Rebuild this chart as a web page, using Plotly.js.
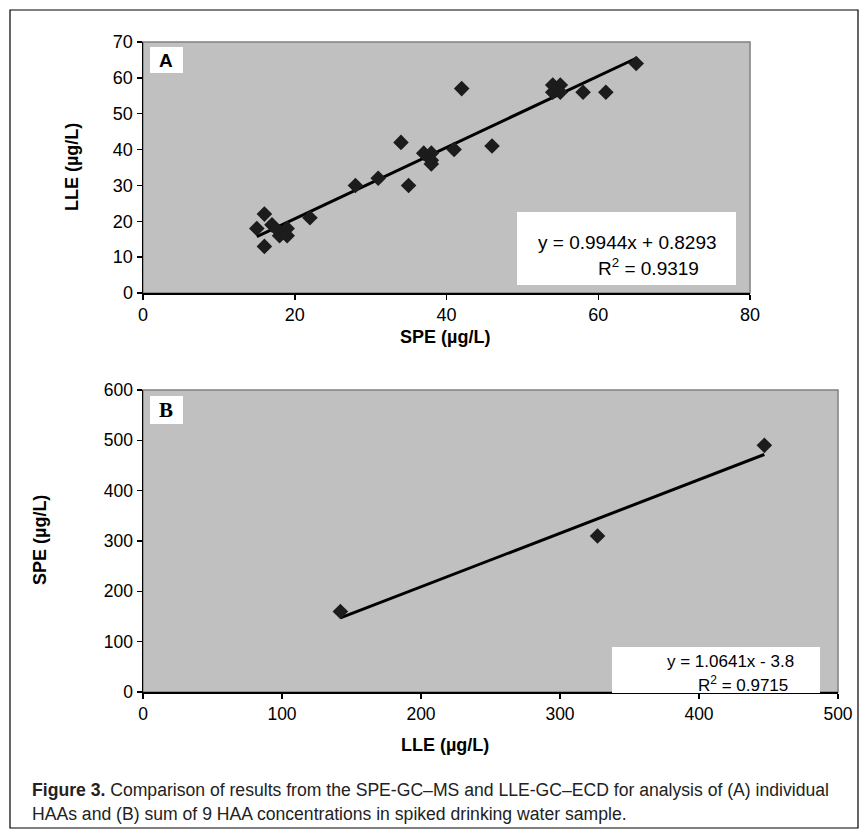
<!DOCTYPE html>
<html>
<head>
<meta charset="utf-8">
<script src="https://cdn.plot.ly/plotly-3.0.1.min.js"></script>
<style>
html,body{margin:0;padding:0;background:#fff;}
#chart{width:868px;height:838px;}
</style>
</head>
<body>
<div id="chart"></div>
<script>
// Panel A: individual HAAs
const speA = [65, 54, 55, 54, 55, 58, 61, 42, 46, 41, 34, 37, 38, 38, 38, 31, 28, 35, 22, 16, 15, 17, 18, 19, 18, 19, 16];
const lleA = [64, 58, 58, 56, 56, 56, 56, 57, 41, 40, 42, 39, 39, 37, 36, 32, 30, 30, 21, 22, 18, 19, 17, 18, 16, 16, 13];
const slopeA = 0.9944, interceptA = 0.8293, r2A = 0.9319;
// Panel B: sum of 9 HAAs
const lleB = [142, 327, 447];
const speB = [160, 310, 490];
const slopeB = 1.0641, interceptB = -3.8, r2B = 0.9715;
const ticksA_x = [0, 20, 40, 60, 80];
const ticksA_y = [0, 10, 20, 30, 40, 50, 60, 70];
const ticksB_x = [0, 100, 200, 300, 400, 500];
const ticksB_y = [0, 100, 200, 300, 400, 500, 600];

const W = 868, H = 838;
const px = v => v / W;
const py = v => 1 - v / H;

function fitLine(xs, m, b) {
  const lo = Math.min(...xs), hi = Math.max(...xs);
  return {x: [lo, hi], y: [m * lo + b, m * hi + b]};
}
const tA = fitLine(speA, slopeA, interceptA);
const tB = fitLine(lleB, slopeB, interceptB);

const mk = {symbol: 'diamond', size: 12, color: '#1c1c1c', line: {width: 0}};
const data = [
  {x: tA.x, y: tA.y, mode: 'lines', line: {color: '#000', width: 3}, xaxis: 'x', yaxis: 'y', hoverinfo: 'skip'},
  {x: speA, y: lleA, mode: 'markers', marker: mk, xaxis: 'x', yaxis: 'y'},
  {x: tB.x, y: tB.y, mode: 'lines', line: {color: '#000', width: 3}, xaxis: 'x2', yaxis: 'y2', hoverinfo: 'skip'},
  {x: lleB, y: speB, mode: 'markers', marker: mk, xaxis: 'x2', yaxis: 'y2'}
];

const axBase = {
  showgrid: false, zeroline: false, showline: true, linecolor: '#000', linewidth: 1.5,
  ticks: 'outside', ticklen: 5, tickcolor: '#000', tickwidth: 1.5, fixedrange: true
};
const fA = {family: 'Liberation Sans, Arial, sans-serif', size: 18, color: '#000'};
const fB = {family: 'Liberation Sans, Arial, sans-serif', size: 17.5, color: '#000'};

const A = {x0: 143, x1: 750, y0: 42, y1: 293};
const B = {x0: 143, x1: 838, y0: 390, y1: 692};

function note(x, y, text, font, extra) {
  return Object.assign({xref: 'paper', yref: 'paper', x: px(x), y: py(y), text: text, showarrow: false,
    xanchor: 'center', yanchor: 'middle', font: font}, extra || {});
}
const titleFont = {family: 'Liberation Sans, Arial, sans-serif', size: 18, color: '#000'};
const eqFont = {family: 'Liberation Sans, Arial, sans-serif', size: 19, color: '#000'};
const eqFontB = {family: 'Liberation Sans, Arial, sans-serif', size: 17, color: '#000'};
const capFont = {family: 'Liberation Sans, Arial, sans-serif', size: 17.6, color: '#222'};

const layout = {
  width: W, height: H, margin: {l: 0, r: 0, t: 0, b: 0},
  paper_bgcolor: '#fff', plot_bgcolor: '#c0c0c0', showlegend: false,
  xaxis: Object.assign({}, axBase, {domain: [px(A.x0), px(A.x1)], range: [0, 80], tickvals: ticksA_x, tickfont: fA, anchor: 'y'}),
  yaxis: Object.assign({}, axBase, {domain: [py(A.y1), py(A.y0)], range: [0, 70], tickvals: ticksA_y, tickfont: fA, anchor: 'x'}),
  xaxis2: Object.assign({}, axBase, {domain: [px(B.x0), px(B.x1)], range: [0, 500], tickvals: ticksB_x, tickfont: fB, anchor: 'y2'}),
  yaxis2: Object.assign({}, axBase, {domain: [py(B.y1), py(B.y0)], range: [0, 600], tickvals: ticksB_y, tickfont: fB, anchor: 'x2'}),
  shapes: [
    {type: 'rect', xref: 'paper', yref: 'paper', x0: px(10), x1: px(858), y0: py(828), y1: py(10), line: {color: '#000', width: 1.2}, layer: 'below'},
    {type: 'rect', xref: 'paper', yref: 'paper', x0: px(A.x0), x1: px(A.x1), y0: py(A.y1), y1: py(A.y0), line: {color: '#808080', width: 1.5}, layer: 'below'},
    {type: 'rect', xref: 'paper', yref: 'paper', x0: px(B.x0), x1: px(B.x1), y0: py(B.y1), y1: py(B.y0), line: {color: '#808080', width: 1.5}, layer: 'below'},
    {type: 'rect', xref: 'paper', yref: 'paper', x0: px(150), x1: px(183), y0: py(73), y1: py(47), fillcolor: '#fff', line: {width: 0}},
    {type: 'rect', xref: 'paper', yref: 'paper', x0: px(150), x1: px(183), y0: py(424), y1: py(396), fillcolor: '#fff', line: {width: 0}},
    {type: 'rect', xref: 'paper', yref: 'paper', x0: px(517), x1: px(736), y0: py(285), y1: py(212), fillcolor: '#fff', line: {width: 0}},
    {type: 'rect', xref: 'paper', yref: 'paper', x0: px(612), x1: px(820), y0: py(693), y1: py(647), fillcolor: '#fff', line: {width: 0}}
  ],
  annotations: [
    note(166, 60, '<b>A</b>', {family: 'Liberation Sans, sans-serif', size: 19, color: '#000'}),
    note(166, 410, '<b>B</b>', {family: 'Liberation Serif, serif', size: 21, color: '#000'}),
    note(627, 242, 'y = ' + slopeA + 'x + ' + interceptA, eqFont),
    note(648, 267, 'R<sup>2</sup> = ' + r2A, eqFont),
    note(730, 661, 'y = ' + slopeB + 'x - ' + Math.abs(interceptB), eqFontB),
    note(743, 684, 'R<sup>2</sup> = ' + r2B, eqFontB),
    note(445, 337, '<b>SPE (µg/L)</b>', titleFont),
    note(72, 167, '<b>LLE (µg/L)</b>', titleFont, {textangle: -90}),
    note(445, 745, '<b>LLE (µg/L)</b>', titleFont),
    note(40, 540, '<b>SPE (µg/L)</b>', titleFont, {textangle: -90}),
    note(30, 790, '<b>Figure 3.</b> Comparison of results from the SPE-GC–MS and LLE-GC–ECD for analysis of (A) individual', capFont, {xanchor: 'left'}),
    note(30, 814, 'HAAs and (B) sum of 9 HAA concentrations in spiked drinking water sample.', capFont, {xanchor: 'left'})
  ]
};

Plotly.newPlot('chart', data, layout, {displayModeBar: false, staticPlot: true});
</script>
</body>
</html>
